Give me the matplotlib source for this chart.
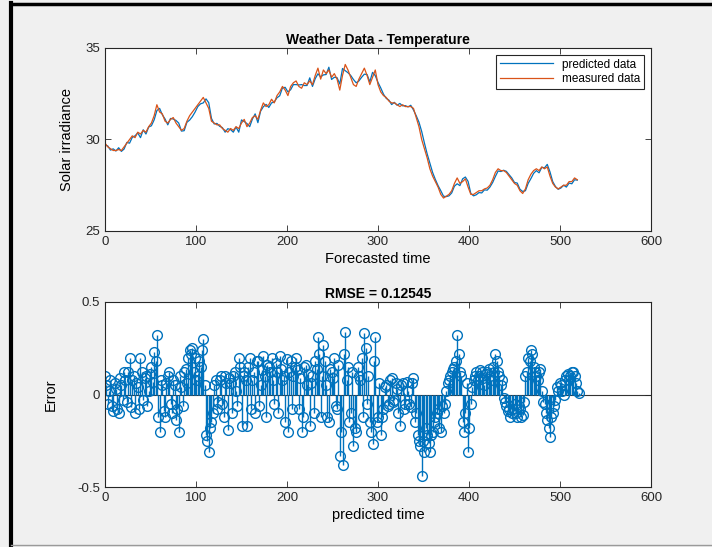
import numpy as np
import matplotlib.pyplot as plt
from matplotlib.lines import Line2D

# Datos (cada 3 pasos de tiempo)
measured = [
    29.8, 29.6, 29.5, 29.4, 29.4, 29.45, 29.4, 29.6, 29.8, 30.0,
    30.2, 30.1, 30.4, 30.3, 30.5, 30.4, 30.7, 30.9, 31.3, 31.9,
    31.5, 31.4, 31.0, 30.9, 31.1, 31.2, 30.9, 30.7, 30.5, 30.6,
    31.0, 31.3, 31.5, 31.7, 31.9, 32.1, 32.3, 32.0, 31.7, 31.0,
    30.9, 30.8, 30.8, 30.6, 30.5, 30.4, 30.6, 30.5, 30.7, 30.6,
    30.9, 31.1, 30.7, 30.9, 31.2, 31.3, 31.1, 31.6, 32.0, 31.8,
    31.9, 32.2, 32.0, 32.4, 32.6, 32.9, 32.7, 32.4, 32.9, 33.1,
    33.2, 32.9, 32.8, 33.1, 33.0, 33.2, 33.0, 33.5, 33.9, 33.3,
    33.8, 33.6, 33.8, 33.4, 33.6, 33.3, 32.7, 33.5, 34.1, 33.8,
    33.4, 33.0, 32.9, 33.3, 33.6, 33.9, 33.5, 33.0, 33.4, 33.8,
    33.0, 32.6, 32.4, 32.3, 32.1, 32.0, 32.0, 31.9, 31.8, 31.9,
    31.8, 31.8, 31.8, 31.7, 31.2, 30.7, 30.0, 29.5, 29.0, 28.4,
    28.0, 27.7, 27.4, 27.0, 26.8, 26.9, 27.0, 27.2, 27.6, 27.9,
    27.6, 27.7, 27.85, 27.4, 27.0, 27.0, 27.1, 27.2, 27.2, 27.3,
    27.35, 27.5, 27.8, 28.2, 28.4, 28.3, 28.3, 28.2, 28.0, 27.8,
    27.6, 27.5, 27.2, 27.05, 27.3, 27.8, 28.1, 28.3, 28.4, 28.3,
    28.5, 28.4, 28.5, 28.0, 27.6, 27.4, 27.3, 27.4, 27.5, 27.5,
    27.7, 27.7, 27.9, 27.8,
]

# error = measured - predicted, en los mismos instantes
error = [
    0.10, -0.05, 0.08, -0.09, 0.03, -0.10, 0.05, 0.12, -0.04, 0.20,
    0.08, -0.10, 0.04, 0.20, -0.03, 0.10, 0.02, 0.15, 0.23, 0.32,
    -0.20, 0.05, -0.12, 0.10, -0.05, 0.08, -0.14, -0.20, 0.04, 0.12,
    0.06, 0.24, 0.25, 0.20, 0.10, 0.15, 0.30, -0.22, -0.31, -0.15,
    0.05, -0.08, 0.08, -0.05, 0.10, -0.19, 0.06, 0.10, 0.02, 0.20,
    -0.17, 0.12, -0.17, 0.20, 0.08, -0.10, 0.18, 0.05, 0.21, -0.12,
    0.15, 0.20, -0.05, 0.12, 0.21, 0.08, -0.15, -0.20, 0.18, 0.10,
    0.20, -0.08, -0.20, 0.15, 0.05, -0.17, 0.10, 0.18, 0.31, -0.12,
    0.27, 0.05, -0.15, 0.12, 0.20, -0.08, -0.33, -0.38, 0.34, 0.15,
    -0.10, -0.28, -0.20, 0.10, 0.20, 0.33, -0.05, -0.15, -0.27, 0.31,
    -0.12, -0.22, -0.08, 0.05, -0.05, 0.09, -0.03, 0.03, -0.17, 0.06,
    -0.05, 0.02, -0.07, 0.09, -0.10, -0.25, -0.44, -0.31, -0.22, -0.31,
    -0.20, -0.12, -0.08, -0.20, -0.10, 0.02, 0.08, 0.12, 0.15, 0.32,
    0.12, -0.15, -0.10, -0.31, -0.05, 0.08, 0.12, 0.10, 0.12, 0.05,
    0.12, 0.10, 0.15, 0.22, 0.12, 0.05, -0.02, -0.06, -0.08, -0.10,
    -0.05, -0.12, -0.08, -0.11, 0.10, 0.20, 0.24, 0.15, 0.10, 0.12,
    0.02, -0.05, -0.14, -0.23, -0.10, -0.03, 0.02, 0.05, 0.00, 0.10,
    0.08, 0.12, 0.10, 0.02,
]

# errores en los instantes intermedios
error_mid = [
    0.05, 0.02, -0.06, 0.06, -0.08, 0.09, -0.03, 0.08, 0.12, -0.07,
    0.10, 0.06, -0.08, 0.12, 0.09, -0.06, 0.11, 0.07, 0.18, -0.12,
    0.08, -0.09, 0.06, 0.12, -0.10, 0.05, -0.08, 0.10, -0.06, 0.14,
    0.20, 0.22, 0.12, 0.08, 0.18, 0.24, 0.05, -0.25, -0.18, -0.10,
    0.08, -0.04, 0.10, -0.12, 0.06, 0.09, -0.10, 0.12, -0.06, 0.15,
    0.10, 0.08, 0.15, -0.08, 0.12, 0.18, -0.06, 0.13, 0.10, 0.16,
    0.12, 0.08, 0.17, -0.10, 0.14, 0.10, 0.19, 0.12, -0.08, 0.15,
    0.13, 0.09, -0.12, 0.16, 0.11, 0.06, -0.10, 0.14, 0.22, 0.10,
    0.18, -0.12, 0.14, 0.09, -0.06, 0.16, -0.20, 0.22, 0.08, -0.15,
    0.12, -0.18, 0.15, 0.08, -0.12, 0.25, 0.10, -0.20, 0.18, -0.15,
    0.06, -0.12, 0.04, -0.06, 0.08, -0.04, 0.06, -0.10, 0.05, -0.08,
    0.07, -0.05, 0.06, -0.15, -0.22, -0.28, -0.25, -0.18, -0.26, -0.22,
    -0.15, -0.10, -0.18, -0.06, -0.05, 0.06, 0.10, 0.14, 0.18, 0.22,
    0.10, -0.20, 0.06, -0.18, 0.04, 0.10, 0.08, 0.13, 0.09, 0.11,
    0.14, 0.08, 0.12, 0.18, 0.10, 0.08, -0.04, -0.09, -0.12, -0.08,
    -0.10, -0.06, -0.12, -0.04, 0.12, 0.18, 0.22, 0.12, 0.08, 0.14,
    -0.04, -0.10, -0.18, -0.12, -0.06, 0.04, 0.06, 0.02, 0.08, 0.11,
    0.10, 0.12, 0.06, 0.01,
]

t = np.arange(len(measured)) * 3
t_mid = t + 1.5
measured = np.array(measured)
error = np.array(error)
predicted = measured - error

blue = '#0072BD'
orange = '#D95319'
plt.rcParams['font.family'] = ['Liberation Sans', 'DejaVu Sans']

fig = plt.figure(figsize=(7.12, 5.47), dpi=100, facecolor='#f0f0f0')
ax1 = fig.add_axes([105 / 712, 1 - 231 / 547, 546 / 712, 183 / 547])
ax2 = fig.add_axes([105 / 712, 1 - 487 / 547, 546 / 712, 185 / 547])

# Grafico superior
ax1.plot(t, predicted, color=blue, lw=0.9, label='predicted data')
ax1.plot(t, measured, color=orange, lw=0.9, label='measured data')
ax1.set_xlim(0, 600)
ax1.set_ylim(25, 35)
ax1.set_xticks(range(0, 601, 100))
ax1.set_yticks([25, 30, 35])
ax1.set_title('Weather Data - Temperature', fontsize=10, fontweight='bold', pad=3)
ax1.set_xlabel('Forecasted time', fontsize=10.5, labelpad=3)
ax1.set_ylabel('Solar irradiance', fontsize=10.5, labelpad=8)
leg = ax1.legend(loc='upper right', fontsize=8.5, fancybox=False, framealpha=1,
                 edgecolor='#262626', handlelength=4.5, borderaxespad=0.6,
                 borderpad=0.3, labelspacing=0.2)
leg.get_frame().set_linewidth(0.8)

# Grafico de errores
for tt, ee in ((t, error), (t_mid, error_mid)):
    markerline, stemlines, baseline = ax2.stem(tt, ee, basefmt=' ')
    markerline.set_color(blue)
    markerline.set_markerfacecolor('none')
    markerline.set_markersize(7)
    markerline.set_markeredgewidth(1)
    stemlines.set_color(blue)
    stemlines.set_linewidth(1)
ax2.axhline(0, color='#333333', lw=0.8, zorder=0)
ax2.set_xlim(0, 600)
ax2.set_ylim(-0.5, 0.5)
ax2.set_xticks(range(0, 601, 100))
ax2.set_yticks([-0.5, 0, 0.5])
ax2.set_yticklabels(['-0.5', '0', '0.5'])
ax2.set_title('RMSE = 0.12545', fontsize=10, fontweight='bold', pad=3)
ax2.set_xlabel('predicted time', fontsize=10.5, labelpad=3)
ax2.set_ylabel('Error', fontsize=10.5, labelpad=14)

for ax in (ax1, ax2):
    ax.tick_params(direction='in', top=True, right=True, labelsize=9.5,
                   colors='#262626', length=4, width=0.6)
    for s in ax.spines.values():
        s.set_color('#262626')
        s.set_linewidth(0.8)

# Marco negro de la captura
fig.add_artist(Line2D([0.016, 0.016], [0, 0.995], color='black', lw=3))
fig.add_artist(Line2D([0.016, 1], [0.993, 0.993], color='black', lw=2.5))
fig.add_artist(Line2D([0.016, 1], [0.003, 0.003], color='#9a9a9a', lw=1))

fig.savefig('out.png', dpi=100, facecolor=fig.get_facecolor())
